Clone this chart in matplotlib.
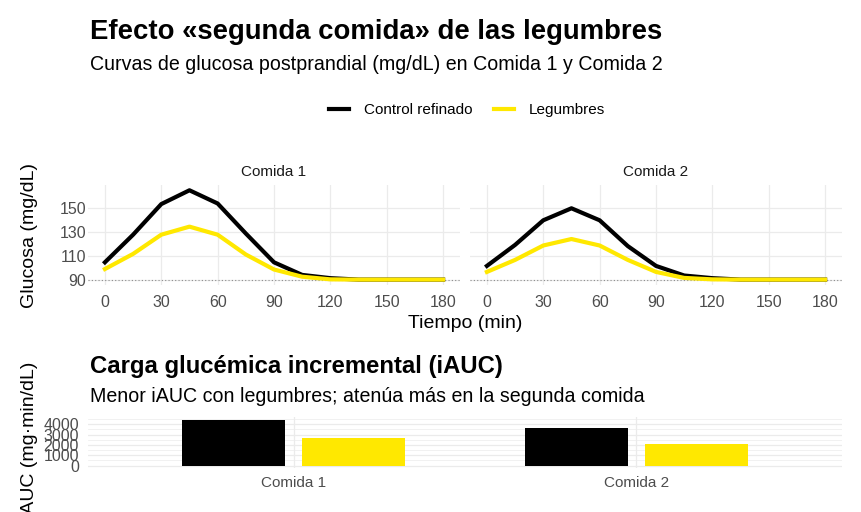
import numpy as np
import matplotlib
matplotlib.use('Agg')
import matplotlib.pyplot as plt
from matplotlib.lines import Line2D
from matplotlib.ticker import MultipleLocator

plt.rcParams['font.family'] = ['Liberation Sans', 'DejaVu Sans']

# ---- data ----
tiempo = [0, 15, 30, 45, 60, 75, 90, 105, 120, 135, 150, 165, 180]
comidas = ['Comida 1', 'Comida 2']
grupos = ['Control refinado', 'Legumbres']

control_c1 = [105, 128, 153.5, 165, 154, 129, 105, 94.5, 91.8, 90.6, 90.6, 90.6, 90.6]
legumbres_c1 = [99.4, 112, 128, 134.7, 128, 111.5, 99, 93, 90.8, 90.6, 90.6, 90.6, 90.6]
control_c2 = [102, 119.5, 140, 150, 140, 118.5, 102, 94, 91.8, 90.6, 90.6, 90.6, 90.6]
legumbres_c2 = [97, 107, 119, 124.4, 119, 107, 97, 92, 90.8, 90.6, 90.6, 90.6, 90.6]

iauc_control = [4450, 3600]
iauc_legumbres = [2700, 2100]

color_control = '#000000'
color_legumbres = '#FFE800'
grid_col = '#EBEBEB'
tick_col = '#4D4D4D'

W, H = 862, 512


def px_axes(fig, left, top, right, bottom):
    return fig.add_axes([left/W, 1-bottom/H, (right-left)/W, (bottom-top)/H])


def px(x, y):
    return (x/W, 1-y/H)


def clean(ax):
    for s in ax.spines.values():
        s.set_visible(False)
    ax.tick_params(length=0, colors=tick_col, labelsize=11.5)
    ax.set_axisbelow(True)


fig = plt.figure(figsize=(W/100, H/100), dpi=100)

# titles
fig.text(*px(90, 32), 'Efecto «segunda comida» de las legumbres', fontsize=19.8,
         fontweight='bold', ha='left', va='center')
fig.text(*px(90, 64), 'Curvas de glucosa postprandial (mg/dL) en Comida 1 y Comida 2',
         fontsize=14.1, ha='left', va='center')

# top facets
curvas = [(control_c1, legumbres_c1), (control_c2, legumbres_c2)]
limites = [(88, 460), (470, 842)]
for k, (ctrl, leg) in enumerate(curvas):
    l, r = limites[k]
    ax = px_axes(fig, l, 185, r, 285)
    clean(ax)
    ax.grid(True, color=grid_col, lw=0.9)
    ax.axhline(90, color='#8C8C8C', ls=(0, (1, 2)), lw=0.8, zorder=1)
    ax.plot(tiempo, ctrl, color=color_control, lw=3, solid_joinstyle='round', zorder=2)
    ax.plot(tiempo, leg, color=color_legumbres, lw=3, solid_joinstyle='round', zorder=3)
    ax.set_xlim(-9, 189)
    ax.set_ylim(86.1, 169.4)
    ax.set_xticks(range(0, 181, 30))
    ax.set_yticks([90, 110, 130, 150])
    ax.tick_params(axis='x', pad=7)
    ax.tick_params(axis='y', pad=1.5)
    if k == 1:
        ax.set_yticklabels([])
    fig.text(*px((l+r)/2, 172), comidas[k], fontsize=11, color='#1A1A1A',
             ha='center', va='center')

fig.text(*px(30, 236), 'Glucosa (mg/dL)', fontsize=14, rotation=90,
         ha='center', va='center')
fig.text(*px(465, 324), 'Tiempo (min)', fontsize=14, ha='center', va='center')

# legend
handles = [Line2D([], [], color=color_control, lw=3),
           Line2D([], [], color=color_legumbres, lw=3)]
fig.legend(handles, grupos, loc='center', bbox_to_anchor=px(467, 110), ncol=2,
           frameon=False, fontsize=11, handlelength=1.3, handletextpad=1.0,
           columnspacing=1.4)

# bottom bars
fig.text(*px(90, 366), 'Carga glucémica incremental (iAUC)', fontsize=17.2,
         fontweight='bold', ha='left', va='center')
fig.text(*px(90, 397), 'Menor iAUC con legumbres; atenúa más en la segunda comida',
         fontsize=14.1, ha='left', va='center')

axb = px_axes(fig, 88, 417, 842, 468)
clean(axb)
x = np.arange(len(comidas))
axb.bar(x - 0.175, iauc_control, width=0.30, color=color_control, zorder=2)
axb.bar(x + 0.175, iauc_legumbres, width=0.30, color=color_legumbres, zorder=2)
axb.set_xlim(-0.6, 1.6)
axb.set_ylim(-225, 4700)
axb.set_xticks(x)
axb.set_xticklabels(comidas)
axb.yaxis.set_major_locator(MultipleLocator(1000))
axb.yaxis.set_minor_locator(MultipleLocator(500))
axb.tick_params(which='minor', length=0)
axb.grid(True, which='major', color=grid_col, lw=0.9)
axb.grid(True, which='minor', axis='y', color=grid_col, lw=0.5)
axb.tick_params(axis='x', pad=6, labelsize=11)
axb.tick_params(axis='y', pad=6.5)

fig.text(*px(30, 440), 'iAUC (mg·min/dL)', fontsize=14, rotation=90,
         ha='center', va='center')

fig.savefig('out.png', dpi=100)
plt.close(fig)
